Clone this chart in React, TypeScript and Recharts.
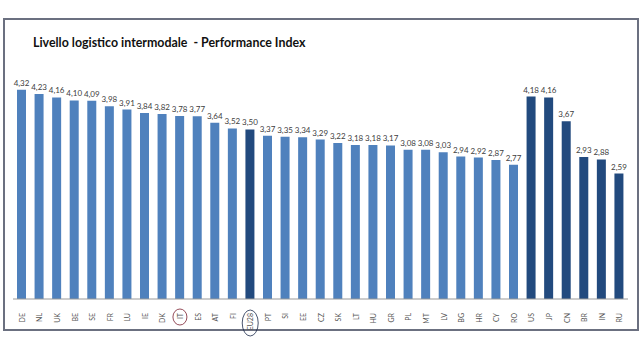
import { BarChart, Bar, XAxis, YAxis, Cell, LabelList } from 'recharts';

const countries = ['DE','NL','UK','BE','SE','FR','LU','IE','DK','IT','ES','AT','FI','EU28','PT','SI','EE','CZ','SK','LT','HU','GR','PL','MT','LV','BG','HR','CY','RO','US','JP','CN','BR','IN','RU'];
const scores = [4.32,4.23,4.16,4.10,4.09,3.98,3.91,3.84,3.82,3.78,3.77,3.64,3.52,3.50,3.37,3.35,3.34,3.29,3.22,3.18,3.18,3.17,3.08,3.08,3.03,2.94,2.92,2.87,2.77,4.18,4.16,3.67,2.93,2.88,2.59];
const darkOnes = ['EU28','US','JP','CN','BR','IN','RU'];
const circled = ['IT','EU28'];

const data = countries.map((c, i) => ({ name: c, value: scores[i] }));

const fmt = (v: any) => Number(v).toFixed(2).replace('.', ',');

const Tick = (props: any) => {
  const { x, y, payload } = props;
  const name = payload.value;
  const long = name.length > 2;
  return (
    <g>
      <text x={x} y={y + 6} transform={`rotate(-90 ${x} ${y + 6})`} textAnchor="end" dominantBaseline="central" fontSize={7} fill="#555" fontFamily="Lato, Arial, sans-serif">{name}</text>
      {circled.includes(name) && (
        <ellipse cx={x} cy={long ? y + 16 : y + 10} rx={long ? 8 : 7} ry={long ? 13 : 8} fill="none" stroke={name === 'IT' ? '#7a2030' : '#1a2a4a'} strokeWidth={0.8} />
      )}
    </g>
  );
};

export default function App() {
  return (
    <div style={{ position: 'absolute', left: 0, top: 0, width: 643, height: 350, background: '#fff' }}>
      <div style={{ position: 'absolute', left: 3, top: 18, width: 632, height: 309, border: '2px solid #6b7080' }} />
      <div style={{ position: 'absolute', left: 33, top: 35, fontFamily: 'Lato, "Open Sans", sans-serif', fontWeight: 'bold', fontSize: 12.4, color: '#111', whiteSpace: 'pre' }}>
        Livello logistico intermodale  - Performance Index
      </div>
      <div style={{ position: 'absolute', left: 0, top: 0 }}>
        <BarChart width={643} height={350} data={data} margin={{ top: 81, right: 15, left: 13, bottom: 11 }} barSize={9}>
          <YAxis hide domain={[0, 4.5]} />
          <XAxis dataKey="name" interval={0} height={40} tickLine={false} axisLine={{ stroke: '#999' }} tick={<Tick />} />
          <Bar dataKey="value" isAnimationActive={false}>
            {data.map((d) => (
              <Cell key={d.name} fill={darkOnes.includes(d.name) ? '#224a7e' : '#4f81bd'} />
            ))}
            <LabelList dataKey="value" position="top" offset={4} formatter={fmt} style={{ fontSize: 8, fill: '#404040', fontFamily: 'Lato, Arial, sans-serif' }} />
          </Bar>
        </BarChart>
      </div>
    </div>
  );
}
